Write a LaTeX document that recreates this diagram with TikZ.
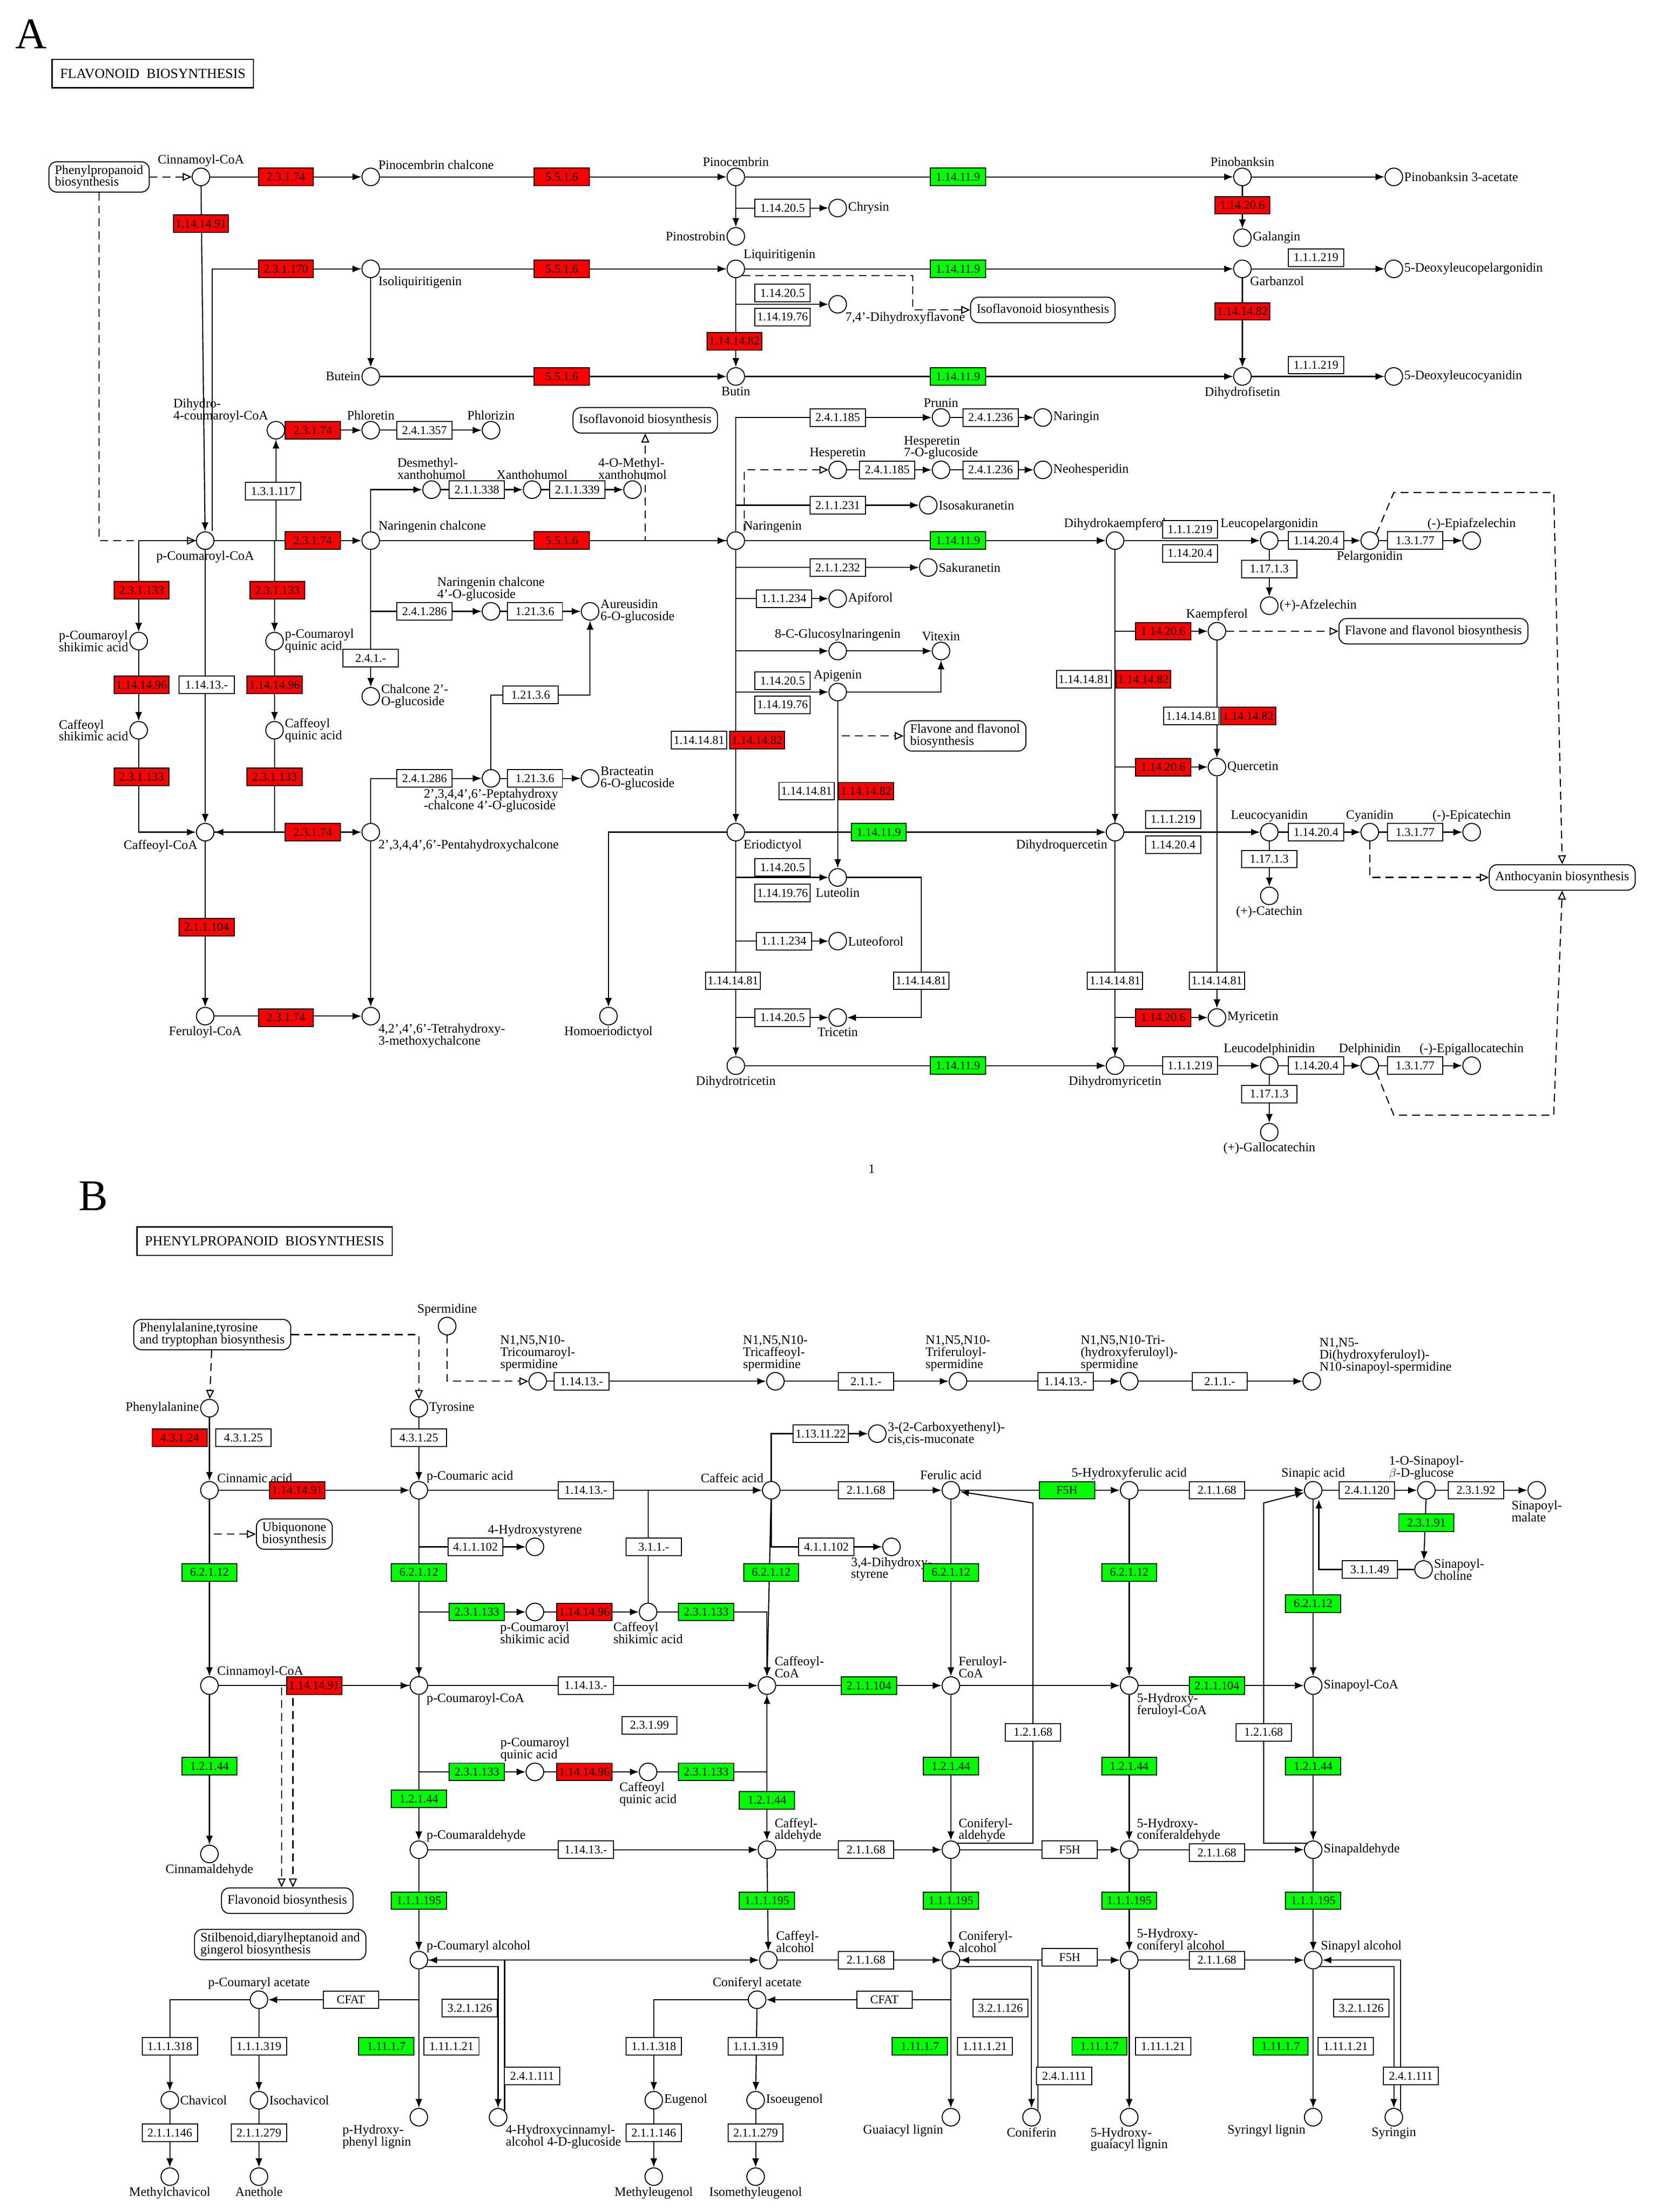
\documentclass[tikz,border=0pt]{standalone}
\usepackage{fontspec}
\setmainfont{Liberation Serif}
\usetikzlibrary{arrows.meta}
\pgfdeclarelayer{bg}\pgfsetlayers{bg,main}
\tikzset{
 cpd/.style={circle,draw,fill=white,minimum size=0.62cm,inner sep=0,line width=1pt},
 enz/.style={draw,fill=white,minimum width=1.95cm,minimum height=0.62cm,inner sep=1pt,font=\fontsize{12}{12}\selectfont,line width=1pt},
 er/.style={enz,fill=red}, eg/.style={enz,fill=green},
 lbl/.style={font=\fontsize{13}{12}\selectfont,align=left,inner sep=1pt},
 map/.style={draw,rounded corners=8pt,fill=white,font=\fontsize{13}{12}\selectfont,align=left,inner xsep=6pt,line width=1pt,minimum height=0.9cm},
 ttl/.style={draw,line width=1.3pt,font=\fontsize{14}{14}\selectfont,minimum height=1cm,inner xsep=8pt},
 ln/.style={line width=1.1pt,-{Latex[length=9pt,width=7pt]}},
 dl/.style={line width=1.1pt,dash pattern=on 8pt off 5pt,-{Triangle[open,length=9pt,width=8pt]}},
}
\newcommand\C[5]{\node[cpd,label={[lbl]#4:{#5}}] (#1) at (#2,#3) {};}
\newcommand\E[3]{\node[enz] (e#1x#2) at (#1,#2) {#3};}
\newcommand\R[3]{\node[er] (e#1x#2) at (#1,#2) {#3};}
\newcommand\G[3]{\node[eg] (e#1x#2) at (#1,#2) {#3};}
\begin{document}
\begin{tikzpicture}[x=0.05cm,y=-0.05cm]
\useasboundingbox (0,0) rectangle (1170,1563);
% ================= PANEL A =================
\node[font=\fontsize{44}{44}\selectfont] (lA) at (22,24) {A};
\node[ttl] (tA) at (108,52) {FLAVONOID\ \ BIOSYNTHESIS};
\node[map] (mPP) at (70,125) {Phenylpropanoid\\biosynthesis};
\node[map] (mIF1) at (737,219) {Isoflavonoid biosynthesis};
\node[map] (mIF2) at (456,297) {Isoflavonoid biosynthesis};
\node[map] (mFF1) at (682,520) {Flavone and flavonol\\biosynthesis};
\node[map] (mFF2) at (1013,446) {Flavone and flavonol biosynthesis};
\node[map] (mAN) at (1104,620) {Anthocyanin biosynthesis};
\C{cin}{142}{125}{above}{Cinnamoyl-CoA}
\C{pch}{262}{125}{above right}{Pinocembrin chalcone}
\C{pino}{520}{125}{above}{Pinocembrin}
\C{pinob}{878}{125}{above}{Pinobanksin}
\C{pb3a}{985}{125}{right}{Pinobanksin 3-acetate}
\C{chry}{592}{147}{right}{Chrysin}
\C{pstr}{520}{167}{left}{Pinostrobin}
\C{gal}{878}{168}{right}{Galangin}
\C{isol}{262}{190}{below right}{Isoliquiritigenin}
\C{liq}{520}{190}{above right}{Liquiritigenin}
\C{garb}{878}{190}{below right}{Garbanzol}
\C{dlp}{985}{190}{right}{5-Deoxyleucopelargonidin}
\C{dhf74}{592}{215}{below right}{7,4'-Dihydroxyflavone}
\C{but}{262}{266}{left}{Butein}
\C{butin}{520}{266}{below}{Butin}
\C{dhfis}{878}{266}{below}{Dihydrofisetin}
\C{dlc}{985}{266}{right}{5-Deoxyleucocyanidin}
\C{dhc}{195}{304}{above left}{Dihydro-\\4-coumaroyl-CoA}
\C{phlt}{262}{304}{above}{Phloretin}
\C{phlz}{347}{304}{above}{Phlorizin}
\C{prun}{665}{295}{above}{Prunin}
\C{ngin}{737}{295}{right}{Naringin}
\C{hesp}{592}{332}{above}{Hesperetin}
\C{h7g}{665}{332}{above}{Hesperetin\\7-O-glucoside}
\C{nhes}{737}{332}{right}{Neohesperidin}
\C{desm}{305}{346}{above}{Desmethyl-\\xanthohumol}
\C{xan}{376}{346}{above}{Xanthohumol}
\C{omx}{447}{346}{above}{4-O-Methyl-\\xanthohumol}
\C{isos}{656}{357}{right}{Isosakuranetin}
\C{pcc}{145}{382}{below}{p-Coumaroyl-CoA}
\C{narch}{262}{382}{above right}{Naringenin chalcone}
\C{nar}{520}{382}{above right}{Naringenin}
\C{dhk}{788}{382}{above}{Dihydrokaempferol}
\C{lpel}{897}{382}{above}{Leucopelargonidin}
\C{pel}{968}{382}{below}{Pelargonidin}
\C{epa}{1040}{382}{above}{(-)-Epiafzelechin}
\C{afz}{897}{428}{right}{(+)-Afzelechin}
\C{sak}{656}{401}{right}{Sakuranetin}
\C{apif}{592}{423}{right}{Apiforol}
\C{pcsa}{98}{453}{left}{p-Coumaroyl\\shikimic acid}
\C{pcqa}{194}{453}{right}{p-Coumaroyl\\quinic acid}
\C{nc4g}{347}{432}{above}{Naringenin chalcone\\4'-O-glucoside}
\C{aur}{417}{432}{right}{Aureusidin\\6-O-glucoside}
\C{c8g}{592}{460}{above}{8-C-Glucosylnaringenin}
\C{vit}{665}{460}{above}{Vitexin}
\C{kae}{860}{446}{above}{Kaempferol}
\C{api}{592}{489}{above}{Apigenin}
\C{c2g}{262}{492}{right}{Chalcone 2'-\\O-glucoside}
\C{csa}{98}{516}{left}{Caffeoyl\\shikimic acid}
\C{cqa}{194}{516}{right}{Caffeoyl\\quinic acid}
\C{que}{860}{542}{right}{Quercetin}
\C{pgl}{347}{550}{below}{2',3,4,4',6'-Peptahydroxy\\-chalcone 4'-O-glucoside}
\C{brac}{417}{550}{right}{Bracteatin\\6-O-glucoside}
\C{caff}{145}{588}{below left}{Caffeoyl-CoA}
\C{pent}{262}{588}{below right}{2',3,4,4',6'-Pentahydroxychalcone}
\C{erio}{520}{588}{below right}{Eriodictyol}
\C{dhq}{788}{588}{below left}{Dihydroquercetin}
\C{lcy}{897}{588}{above}{Leucocyanidin}
\C{cya}{968}{588}{above}{Cyanidin}
\C{epc}{1040}{588}{above}{(-)-Epicatechin}
\C{cat}{897}{633}{below}{(+)-Catechin}
\C{lut}{592}{620}{below}{Luteolin}
\C{luf}{592}{665}{right}{Luteoforol}
\C{fer}{145}{718}{below}{Feruloyl-CoA}
\C{thx}{262}{718}{below right}{4,2',4',6'-Tetrahydroxy-\\3-methoxychalcone}
\C{homo}{430}{718}{below}{Homoeriodictyol}
\C{tric}{592}{719}{below}{Tricetin}
\C{myr}{860}{719}{right}{Myricetin}
\C{dht}{520}{753}{below}{Dihydrotricetin}
\C{dm}{788}{753}{below}{Dihydromyricetin}
\C{ldel}{897}{753}{above}{Leucodelphinidin}
\C{del}{968}{753}{above}{Delphinidin}
\C{epg}{1040}{753}{above}{(-)-Epigallocatechin}
\C{gcat}{897}{800}{below}{(+)-Gallocatechin}
\node[lbl] (one) at (616,826) {1};
% enzymes A
\R{202}{125}{2.3.1.74}\R{397}{125}{5.5.1.6}\G{677}{125}{1.14.11.9}
\E{553}{147}{1.14.20.5}\R{878}{145}{1.14.20.6}\R{142}{158}{1.14.14.91}
\R{202}{190}{2.3.1.170}\R{397}{190}{5.5.1.6}\G{677}{190}{1.14.11.9}
\E{930}{182}{1.1.1.219}\E{553}{207}{1.14.20.5}\E{553}{224}{1.14.19.76}
\R{519}{241}{1.14.14.82}\R{878}{220}{1.14.14.82}
\R{397}{266}{5.5.1.6}\G{677}{266}{1.14.11.9}\E{930}{258}{1.1.1.219}
\R{221}{304}{2.3.1.74}\E{300}{304}{2.4.1.357}\E{193}{347}{1.3.1.117}
\E{592}{295}{2.4.1.185}\E{700}{295}{2.4.1.236}\E{627}{332}{2.4.1.185}\E{700}{332}{2.4.1.236}
\E{337}{346}{2.1.1.338}\E{408}{346}{2.1.1.339}\E{592}{357}{2.1.1.231}
\R{221}{382}{2.3.1.74}\R{397}{382}{5.5.1.6}\G{677}{382}{1.14.11.9}
\E{841}{374}{1.1.1.219}\E{841}{391}{1.14.20.4}\E{930}{382}{1.14.20.4}\E{1000}{382}{1.3.1.77}
\E{897}{402}{1.17.1.3}\E{592}{401}{2.1.1.232}\E{554}{423}{1.1.1.234}
\R{100}{417}{2.3.1.133}\R{196}{417}{2.3.1.133}
\E{300}{432}{2.4.1.286}\E{378}{432}{1.21.3.6}\E{262}{465}{2.4.1.-}
\E{146}{484}{1.14.13.-}\R{100}{484}{1.14.14.96}\R{194}{484}{1.14.14.96}
\E{553}{481}{1.14.20.5}\E{553}{498}{1.14.19.76}\E{375}{491}{1.21.3.6}
\R{822}{446}{1.14.20.6}
\E{766}{480}{1.14.14.81}\R{808}{480}{1.14.14.82}
\E{842}{506}{1.14.14.81}\R{882}{506}{1.14.14.82}
\E{494}{523}{1.14.14.81}\R{535}{523}{1.14.14.82}
\E{570}{559}{1.14.14.81}\R{612}{559}{1.14.14.82}
\R{822}{542}{1.14.20.6}\R{100}{549}{2.3.1.133}\R{194}{549}{2.3.1.133}
\E{300}{550}{2.4.1.286}\E{378}{550}{1.21.3.6}
\R{221}{588}{2.3.1.74}\G{621}{588}{1.14.11.9}
\E{829}{579}{1.1.1.219}\E{829}{597}{1.14.20.4}\E{930}{588}{1.14.20.4}\E{1000}{588}{1.3.1.77}
\E{897}{607}{1.17.1.3}\E{553}{613}{1.14.20.5}\E{553}{631}{1.14.19.76}
\R{146}{655}{2.1.1.104}\E{554}{665}{1.1.1.234}
\E{518}{693}{1.14.14.81}\E{651}{693}{1.14.14.81}\E{788}{693}{1.14.14.81}\E{860}{693}{1.14.14.81}
\R{202}{719}{2.3.1.74}\E{553}{719}{1.14.20.5}\R{822}{719}{1.14.20.6}
\G{677}{753}{1.14.11.9}\E{841}{753}{1.1.1.219}\E{930}{753}{1.14.20.4}\E{1000}{753}{1.3.1.77}
\E{897}{773}{1.17.1.3}
\begin{pgfonlayer}{bg}
\draw[dl] (mPP) -- (cin);
\draw[dl] (mPP) |- (pcc);
\draw[ln] (cin)--(pch); \draw[ln] (pch)--(pino); \draw[ln] (pino)--(pinob); \draw[ln] (pinob)--(pb3a);
\draw[ln] (pino)--(pstr); \draw[ln] (pino) |- (chry); \draw[ln] (pinob)--(gal);
\draw[ln] (cin)--(pcc);
\draw[ln] ([xshift=0.25cm]pcc.north) |- (isol);
\draw[ln] (isol)--(liq); \draw[ln] (isol)--(but); \draw[ln] (but)--(butin);
\draw[ln] (liq)--(garb); \draw[ln] (garb)--(dlp); \draw[ln] (liq)--(butin); \draw[ln] (liq) |- (dhf74);
\draw[dl] (liq.south east) -| (645,219) -- (mIF1);
\draw[ln] (garb)--(dhfis); \draw[ln] (butin)--(dhfis); \draw[ln] (dhfis)--(dlc);
\draw[ln] (pcc) -| (dhc); \draw[ln] (dhc)--(phlt); \draw[ln] (phlt)--(phlz);
\draw[ln] (pcc)--(narch); \draw[ln] (narch)--(nar);
\draw[ln] (narch) |- (desm); \draw[ln] (desm)--(xan); \draw[ln] (xan)--(omx);
\draw[ln] (narch) |- (nc4g); \draw[ln] (nc4g)--(aur); \draw[ln] (narch)--(c2g);
\draw[ln] (nar)--(dhk); \draw[ln] (nar) |- (prun); \draw[ln] (prun)--(ngin);
\draw[dl] ([xshift=0.3cm]nar.north) |- (hesp); \draw[ln] (hesp)--(h7g); \draw[ln] (h7g)--(nhes);
\draw[ln] (nar) |- (isos); \draw[ln] (nar) |- (sak); \draw[ln] (nar) |- (apif);
\draw[ln] (nar) |- (c8g); \draw[ln] (nar) |- (api); \draw[ln] (c8g)--(vit); \draw[ln] (api) -| (vit);
\draw[dl] (api) |- (mFF1);
\draw[dl] (nar) -| (mIF2);
\draw[ln] (nar)--(erio);
\draw[ln] (dhk)--(lpel); \draw[ln] (lpel)--(pel); \draw[ln] (pel)--(epa); \draw[ln] (lpel)--(afz);
\draw[ln] (dhk) |- (kae); \draw[ln] (dhk)--(dhq); \draw[dl] (kae)--(mFF2);
\draw[ln] (kae)--(que); \draw[ln] (dhq) |- (que); \draw[ln] (que)--(myr); \draw[ln] (dm) |- (myr);
\draw[ln] (erio)--(dhq); \draw[ln] (dhq)--(lcy); \draw[ln] (lcy)--(cya); \draw[ln] (cya)--(epc); \draw[ln] (lcy)--(cat);
\draw[dl] (pel.north east) -- (985,348) -- (1098,348) -- (mAN.north);
\draw[dl] (cya) |- (mAN);
\draw[dl] (del.south east) -- (985,788) -- (1098,788) -- (mAN.south);
\draw[ln] (erio) |- (lut); \draw[ln] (api)--(lut); \draw[ln] (erio) |- (luf);
\draw[ln] (erio)--(dht); \draw[ln] (dht)--(dm); \draw[ln] (dhq)--(dm);
\draw[ln] (erio) |- (tric); \draw[ln] (erio) -| (homo);
\draw[ln] (lut) -| (651,719) -- (tric);
\draw[ln] (dm)--(ldel); \draw[ln] (ldel)--(del); \draw[ln] (del)--(epg); \draw[ln] (ldel)--(gcat);
\draw[ln] (pcc) -| (pcsa); \draw[ln] (pcsa)--(csa); \draw[ln] (csa) |- (caff);
\draw[ln] (pcc) -| (pcqa); \draw[ln] (pcqa)--(cqa); \draw[ln] (cqa) |- (caff);
\draw[ln] (pcc)--(caff);
\draw[ln] (caff)--(pent); \draw[ln] (caff)--(fer); \draw[ln] (fer)--(thx); \draw[ln] (pent)--(thx);
\draw[ln] (pent) |- (pgl); \draw[ln] (pgl)--(brac); \draw[ln] (pgl) |- (417,491) -- (aur);
\end{pgfonlayer}
% ================= PANEL B =================
\node[font=\fontsize{44}{44}\selectfont] (lB) at (66,845) {B};
\node[ttl] (tB) at (187,877) {PHENYLPROPANOID\ \ BIOSYNTHESIS};
\node[map] (mPhe) at (150,943) {Phenylalanine,tyrosine\\and tryptophan biosynthesis};
\node[map] (mUbi) at (208,1084) {Ubiquonone\\biosynthesis};
\node[map] (mFl) at (203,1343) {Flavonoid biosynthesis};
\node[map] (mSt) at (198,1374) {Stilbenoid,diarylheptanoid and\\gingerol biosynthesis};
\C{spd}{316}{937}{above}{Spermidine}
\C{tcs}{380}{976}{above}{N1,N5,N10-\\Tricoumaroyl-\\spermidine}
\C{tcf}{548}{976}{above}{N1,N5,N10-\\Tricaffeoyl-\\spermidine}
\C{tfs}{677}{976}{above}{N1,N5,N10-\\Triferuloyl-\\spermidine}
\C{thf}{798}{976}{above}{N1,N5,N10-Tri-\\(hydroxyferuloyl)-\\spermidine}
\C{dhfs}{927}{976}{above right}{N1,N5-\\Di(hydroxyferuloyl)-\\N10-sinapoyl-spermidine}
\C{phe}{148}{995}{left}{Phenylalanine}
\C{tyr}{296}{995}{right}{Tyrosine}
\C{muc}{620}{1013}{right}{3-(2-Carboxyethenyl)-\\cis,cis-muconate}
\C{cina}{148}{1053}{above right}{Cinnamic acid}
\C{pca}{296}{1053}{above right}{p-Coumaric acid}
\C{cafa}{545}{1053}{above left}{Caffeic acid}
\C{fera}{672}{1053}{above}{Ferulic acid}
\C{hfa}{798}{1053}{above}{5-Hydroxyferulic acid}
\C{sina}{928}{1053}{above}{Sinapic acid}
\C{sglu}{1008}{1053}{above}{1-O-Sinapoyl-\\$\beta$-D-glucose}
\C{smal}{1086}{1053}{below}{Sinapoyl-\\malate}
\C{hst}{378}{1093}{above}{4-Hydroxystyrene}
\C{dhst}{630}{1093}{below}{3,4-Dihydroxy-\\styrene}
\C{sch}{1006}{1109}{right}{Sinapoyl-\\choline}
\C{pcsaB}{378}{1139}{below}{p-Coumaroyl\\shikimic acid}
\C{csaB}{458}{1139}{below}{Caffeoyl\\shikimic acid}
\C{cinCoA}{148}{1191}{above right}{Cinnamoyl-CoA}
\C{pcCoA}{296}{1191}{below right}{p-Coumaroyl-CoA}
\C{cafCoA}{542}{1191}{above right}{Caffeoyl-\\CoA}
\C{ferCoA}{672}{1191}{above right}{Feruloyl-\\CoA}
\C{hfCoA}{798}{1191}{below right}{5-Hydroxy-\\feruloyl-CoA}
\C{sinCoA}{928}{1191}{right}{Sinapoyl-CoA}
\C{pcqaB}{378}{1252}{above}{p-Coumaroyl\\quinic acid}
\C{cqaB}{458}{1252}{below}{Caffeoyl\\quinic acid}
\C{cald}{148}{1310}{below}{Cinnamaldehyde}
\C{pcal}{296}{1307}{above right}{p-Coumaraldehyde}
\C{cfal}{542}{1307}{above right}{Caffeyl-\\aldehyde}
\C{conal}{672}{1307}{above right}{Coniferyl-\\aldehyde}
\C{hcal}{798}{1307}{above right}{5-Hydroxy-\\coniferaldehyde}
\C{sinal}{928}{1307}{right}{Sinapaldehyde}
\C{pcalc}{296}{1385}{above right}{p-Coumaryl alcohol}
\C{cfalc}{543}{1385}{above right}{Caffeyl-\\alcohol}
\C{coalc}{672}{1385}{above right}{Coniferyl-\\alcohol}
\C{hcalc}{798}{1385}{above right}{5-Hydroxy-\\coniferyl alcohol}
\C{sinalc}{928}{1385}{above right}{Sinapyl alcohol}
\C{pcac}{183}{1413}{above}{p-Coumaryl acetate}
\C{coac}{535}{1413}{above}{Coniferyl acetate}
\C{chav}{120}{1484}{right}{Chavicol}
\C{isch}{183}{1484}{right}{Isochavicol}
\C{eug}{462}{1484}{right}{Eugenol}
\C{ieug}{534}{1484}{right}{Isoeugenol}
\C{phl}{296}{1496}{below left}{p-Hydroxy-\\phenyl lignin}
\C{hcg}{352}{1496}{below right}{4-Hydroxycinnamyl-\\alcohol 4-D-glucoside}
\C{gl}{672}{1496}{below left}{Guaiacyl lignin}
\C{conf}{729}{1496}{below}{Coniferin}
\C{hgl}{798}{1496}{below}{5-Hydroxy-\\guaiacyl lignin}
\C{sl}{928}{1496}{below left}{Syringyl lignin}
\C{syr}{985}{1496}{below}{Syringin}
\C{mch}{120}{1538}{below}{Methylchavicol}
\C{anet}{183}{1538}{below}{Anethole}
\C{meug}{462}{1538}{below}{Methyleugenol}
\C{imeug}{534}{1538}{below}{Isomethyleugenol}
% enzymes B
\E{411}{976}{1.14.13.-}\E{612}{976}{2.1.1.-}\E{753}{976}{1.14.13.-}\E{862}{976}{2.1.1.-}
\R{127}{1016}{4.3.1.24}\E{172}{1016}{4.3.1.25}\E{296}{1016}{4.3.1.25}\E{580}{1013}{1.13.11.22}
\R{210}{1053}{1.14.14.91}\E{414}{1053}{1.14.13.-}\E{612}{1053}{2.1.1.68}\G{754}{1053}{F5H}
\E{860}{1053}{2.1.1.68}\E{966}{1053}{2.4.1.120}\E{1043}{1053}{2.3.1.92}
\E{336}{1093}{4.1.1.102}\E{462}{1093}{3.1.1.-}\E{584}{1093}{4.1.1.102}
\G{1008}{1076}{2.3.1.91}\E{968}{1109}{3.1.1.49}
\G{148}{1111}{6.2.1.12}\G{296}{1111}{6.2.1.12}\G{545}{1111}{6.2.1.12}\G{672}{1111}{6.2.1.12}\G{798}{1111}{6.2.1.12}\G{928}{1133}{6.2.1.12}
\G{337}{1139}{2.3.1.133}\R{413}{1139}{1.14.14.96}\G{499}{1139}{2.3.1.133}
\R{222}{1191}{1.14.14.91}\E{414}{1191}{1.14.13.-}\G{614}{1191}{2.1.1.104}\G{860}{1191}{2.1.1.104}
\E{459}{1219}{2.3.1.99}\E{730}{1224}{1.2.1.68}\E{893}{1224}{1.2.1.68}
\G{337}{1252}{2.3.1.133}\R{413}{1252}{1.14.14.96}\G{499}{1252}{2.3.1.133}
\G{148}{1248}{1.2.1.44}\G{296}{1271}{1.2.1.44}\G{542}{1272}{1.2.1.44}\G{672}{1248}{1.2.1.44}\G{798}{1248}{1.2.1.44}\G{928}{1248}{1.2.1.44}
\E{414}{1307}{1.14.13.-}\E{612}{1307}{2.1.1.68}\E{756}{1307}{F5H}\E{860}{1309}{2.1.1.68}
\G{296}{1343}{1.1.1.195}\G{542}{1343}{1.1.1.195}\G{672}{1343}{1.1.1.195}\G{798}{1343}{1.1.1.195}\G{928}{1343}{1.1.1.195}
\E{612}{1385}{2.1.1.68}\E{756}{1383}{F5H}\E{860}{1385}{2.1.1.68}
\E{248}{1413}{CFAT}\E{625}{1413}{CFAT}
\E{332}{1419}{3.2.1.126}\E{707}{1419}{3.2.1.126}\E{962}{1419}{3.2.1.126}
\E{120}{1446}{1.1.1.318}\E{183}{1446}{1.1.1.319}\E{462}{1446}{1.1.1.318}\E{534}{1446}{1.1.1.319}
\G{273}{1446}{1.11.1.7}\E{319}{1446}{1.11.1.21}\G{650}{1446}{1.11.1.7}\E{696}{1446}{1.11.1.21}
\G{777}{1446}{1.11.1.7}\E{822}{1446}{1.11.1.21}\G{905}{1446}{1.11.1.7}\E{951}{1446}{1.11.1.21}
\E{376}{1467}{2.4.1.111}\E{752}{1467}{2.4.1.111}\E{997}{1467}{2.4.1.111}
\E{120}{1507}{2.1.1.146}\E{183}{1507}{2.1.1.279}\E{462}{1507}{2.1.1.146}\E{534}{1507}{2.1.1.279}
\begin{pgfonlayer}{bg}
\draw[dl] (mPhe)--(phe); \draw[dl] (mPhe.east) -| (tyr);
\draw[dl] (spd) |- (tcs);
\draw[ln] (tcs)--(tcf); \draw[ln] (tcf)--(tfs); \draw[ln] (tfs)--(thf); \draw[ln] (thf)--(dhfs);
\draw[ln] (phe)--(cina); \draw[ln] (tyr)--(pca); \draw[ln] (cina)--(pca); \draw[ln] (pca)--(cafa);
\draw[ln] (cafa)--(fera); \draw[ln] (fera)--(hfa); \draw[ln] (hfa)--(sina); \draw[ln] (sina)--(sglu); \draw[ln] (sglu)--(smal);
\draw[ln] (cafa) |- (muc);
\draw[ln] (sglu)--(sch); \draw[ln] (sch) -| ([xshift=0.2cm]sina.south);
\draw[dl] (cina) |- (mUbi);
\draw[ln] (pca) |- (hst); \draw[ln] (cafa) |- (dhst);
\draw[ln] (cina)--(cinCoA); \draw[ln] (pca)--(pcCoA); \draw[ln] (cafa)--(cafCoA); \draw[ln] (fera)--(ferCoA); \draw[ln] (hfa)--(hfCoA); \draw[ln] (sina)--(sinCoA);
\draw[ln] (cinCoA)--(pcCoA); \draw[ln] (pcCoA)--(cafCoA); \draw[ln] (cafCoA)--(ferCoA); \draw[ln] (ferCoA)--(hfCoA); \draw[ln] (hfCoA)--(sinCoA);
\draw[ln] (pcCoA) |- (pcsaB); \draw[ln] (pcsaB)--(csaB); \draw[ln] (csaB) -| (cafCoA); \draw[ln] (csaB) |- (cafa);
\draw[ln] (pcCoA) |- (pcqaB); \draw[ln] (pcqaB)--(cqaB); \draw[ln] (cqaB) -| (cafCoA);
\draw[dl] (pcCoA.west) -| ([xshift=0.2cm]mFl.north);
\draw[dl] (cinCoA) -| ([xshift=-0.2cm]mFl.north);
\draw[ln] (cinCoA)--(cald); \draw[ln] (pcCoA)--(pcal); \draw[ln] (cafCoA)--(cfal); \draw[ln] (ferCoA)--(conal); \draw[ln] (hfCoA)--(hcal); \draw[ln] (sinCoA)--(sinal);
\draw[ln] (pcal)--(cfal); \draw[ln] (cfal)--(conal); \draw[ln] (conal)--(hcal); \draw[ln] (hcal)--(sinal);
\draw[ln] (conal.north east) -| (730,1062) -- (fera);
\draw[ln] (sinal.north west) -| (893,1062) -- (sina);
\draw[ln] (pcal)--(pcalc); \draw[ln] (cfal)--(cfalc); \draw[ln] (conal)--(coalc); \draw[ln] (hcal)--(hcalc); \draw[ln] (sinal)--(sinalc);
\draw[ln] (pcalc)--(cfalc); \draw[ln] (cfalc)--(coalc); \draw[ln] (coalc)--(hcalc); \draw[ln] (hcalc)--(sinalc);
\draw[ln] (pcalc) |- (pcac); \draw[ln] (pcac) -| (chav); \draw[ln] (pcac)--(isch); \draw[ln] (chav)--(mch); \draw[ln] (isch)--(anet);
\draw[ln] (coalc) |- (coac); \draw[ln] (coac) -| (eug); \draw[ln] (coac)--(ieug); \draw[ln] (eug)--(meug); \draw[ln] (ieug)--(imeug);
\draw[ln] (pcalc)--(phl); \draw[ln] (coalc)--(gl); \draw[ln] (hcalc)--(hgl); \draw[ln] (sinalc)--(sl);
\draw[ln] (pcalc.south east) -| (hcg); \draw[ln] (hcg.north east) |- (pcalc.east);
\draw[ln] (coalc.south east) -| (conf); \draw[ln] (conf.north east) |- (coalc.east);
\draw[ln] (sinalc.south east) -| (syr); \draw[ln] (syr.north east) |- (sinalc.east);
\end{pgfonlayer}
\end{tikzpicture}
\end{document}
